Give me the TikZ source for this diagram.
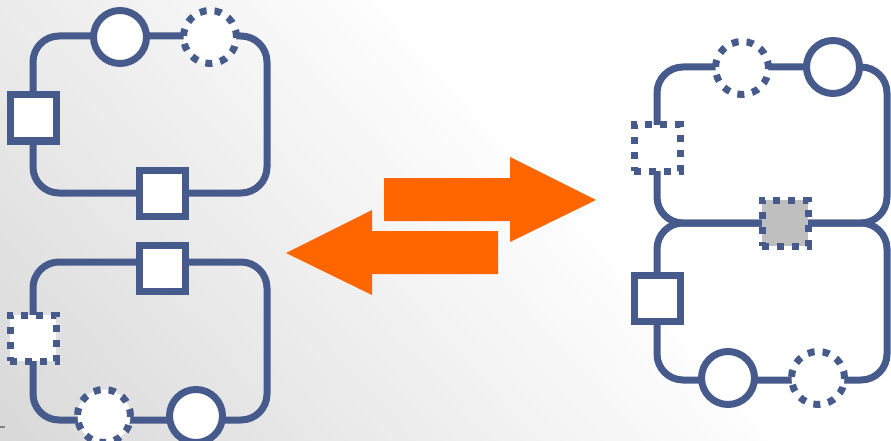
\documentclass[tikz,border=0pt]{standalone}
\usetikzlibrary{positioning}
\definecolor{loopblue}{RGB}{70,90,140}
\definecolor{swaporange}{RGB}{255,102,0}
\definecolor{sitegray}{RGB}{191,191,191}

\begin{document}
\begin{tikzpicture}[x=1pt,y=-1pt,
  ring/.style={draw=loopblue,line width=7pt,rounded corners=26pt},
  site/.style={circle,draw=loopblue,line width=7pt,fill=white,minimum size=53pt,inner sep=0pt},
  gate/.style={rectangle,draw=loopblue,line width=7pt,fill=white,minimum size=46pt,inner sep=0pt},
  ghost/.style={dash pattern=on 7pt off 8pt}]
\useasboundingbox (0,0) rectangle (891,441);
% backdrop, darker towards the lower left
\begin{scope}
  \clip (0,0) rectangle (891,441);
  \foreach \i [evaluate=\i as \v using 15-15*\i/59] in {0,...,59}
    \fill[black!\v,shift={(0,441)},rotate=42] (\i*10,-700) rectangle (\i*10+10.6,700);
\end{scope}
\draw[gray,line width=2pt] (0,427)--(5,427);
% left: two separate loops
\draw[ring] (33,36) rectangle (267,193);
\draw[ring] (33,262) rectangle (267,420);
\node[site] (ta) at (120,37) {};
\node[site,ghost] (tb) at (210,37) {};
\node[gate] (tc) at (33,118) {};
\node[gate] (td) at (162,193) {};
\node[gate] (ba) at (162,268) {};
\node[gate,ghost] (bb) at (33,338) {};
\node[site,ghost] (bc) at (104,416) {};
\node[site] (bd) at (196,416) {};
% right: the joined pair
\draw[ring] (657,67) rectangle (887,223);
\draw[ring] (657,223) rectangle (887,380);
\node[site,ghost] (ra) at (742,68) {};
\node[site] (rb) at (833,67) {};
\node[gate,ghost] (rc) at (657,148) {};
\node[gate,ghost,fill=sitegray] (rd) at (785,223) {};
\node[gate] (re) at (657,298) {};
\node[site] (rf) at (728,378) {};
\node[site,ghost] (rg) at (818,378) {};
% swap arrows
\fill[swaporange] (384,178)--(510,178)--(510,157)--(596,200)--(510,242)--(510,221)--(384,221)--cycle;
\fill[swaporange] (498,231)--(372,231)--(372,210)--(286,253)--(372,295)--(372,274)--(498,274)--cycle;
\end{tikzpicture}
\end{document}
